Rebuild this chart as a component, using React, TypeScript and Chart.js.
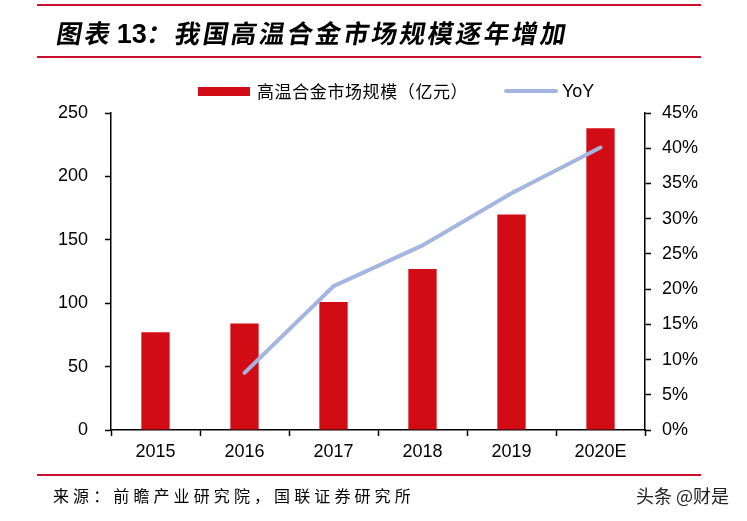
import React, { useEffect, useRef } from "react";
import { Chart, registerables } from "chart.js";

Chart.register(...registerables);

const categories = ["2015", "2016", "2017", "2018", "2019", "2020E"];
const marketSize = [77, 84, 101, 127, 170, 238];
const yoy = [null, 8.1, 20.4, 26.2, 33.6, 40.1];
const leftTicks = [0, 50, 100, 150, 200, 250];
const rightTicks = [0, 5, 10, 15, 20, 25, 30, 35, 40, 45];

const barLabel = "高温合金市场规模（亿元）";
const lineLabel = "YoY";
const titlePrefix = "图表";
const titleNumber = "13";
const titleRest = "：我国高温合金市场规模逐年增加";
const sourceText = "来源：前瞻产业研究院，国联证券研究所";
const watermark = "头条 @财是";

const RED = "#D20C14";
const BLUE = "#A4B5DF";
const RULE = "#C8102E";
const TICK_FONT = { family: "'Liberation Sans', Arial, sans-serif", size: 18 };

export default function App() {
  const ref = useRef<HTMLCanvasElement | null>(null);

  useEffect(() => {
    if (!ref.current) return;
    const chart = new Chart(ref.current, {
      type: "bar",
      data: {
        labels: categories,
        datasets: [
          {
            type: "line",
            label: lineLabel,
            data: yoy,
            yAxisID: "y1",
            borderColor: BLUE,
            backgroundColor: BLUE,
            borderWidth: 4,
            borderCapStyle: "round",
            pointRadius: 0,
            tension: 0,
            spanGaps: false,
            order: 0,
          } as any,
          {
            type: "bar",
            label: barLabel,
            data: marketSize,
            yAxisID: "y",
            backgroundColor: RED,
            categoryPercentage: 1,
            barPercentage: 0.318,
            order: 1,
          },
        ],
      },
      options: {
        responsive: false,
        animation: false,
        devicePixelRatio: 1,
        layout: { padding: { top: 113, bottom: 0, left: 0, right: 0 } },
        plugins: { legend: { display: false }, tooltip: { enabled: false } },
        scales: {
          x: {
            grid: {
              offset: true,
              drawOnChartArea: false,
              drawTicks: true,
              tickLength: 6,
              tickColor: "#000",
              tickWidth: 1.5,
            },
            border: { display: true, color: "#000", width: 1.5 },
            ticks: { color: "#000", font: TICK_FONT, padding: 5, maxRotation: 0 },
            afterFit: (s: any) => {
              s.height = 91;
            },
          },
          y: {
            position: "left",
            min: 0,
            max: 250,
            afterBuildTicks: (s: any) => {
              s.ticks = leftTicks.map((v) => ({ value: v }));
            },
            grid: {
              drawOnChartArea: false,
              drawTicks: true,
              tickLength: 6,
              tickColor: "#000",
              tickWidth: 1.5,
            },
            border: { display: true, color: "#000", width: 1.5 },
            ticks: { color: "#000", font: TICK_FONT, padding: 17 },
            afterFit: (s: any) => {
              s.width = 111;
            },
          },
          y1: {
            position: "right",
            min: 0,
            max: 45,
            afterBuildTicks: (s: any) => {
              s.ticks = rightTicks.map((v) => ({ value: v }));
            },
            grid: {
              drawOnChartArea: false,
              drawTicks: true,
              tickLength: 6,
              tickColor: "#000",
              tickWidth: 1.5,
            },
            border: { display: true, color: "#000", width: 1.5 },
            ticks: {
              color: "#000",
              font: TICK_FONT,
              padding: 11,
              callback: (v: any) => `${v}%`,
            },
            afterFit: (s: any) => {
              s.width = 102;
            },
          },
        },
      },
    });
    return () => chart.destroy();
  }, []);

  const cjk = "'Noto Sans CJK SC', 'Noto Sans', sans-serif";

  return (
    <div
      style={{
        position: "absolute",
        left: 0,
        top: 0,
        width: 747,
        height: 521,
        background: "#fff",
        overflow: "hidden",
      }}
    >
      <canvas
        ref={ref}
        width={747}
        height={521}
        style={{ position: "absolute", left: 0, top: 0, width: 747, height: 521 }}
      />
      {/* title rules */}
      <div style={{ position: "absolute", left: 37, top: 4, width: 664, height: 2, background: RULE }} />
      <div style={{ position: "absolute", left: 37, top: 56, width: 664, height: 2, background: RULE }} />
      <div
        style={{
          position: "absolute",
          left: 57,
          top: 13,
          fontFamily: cjk,
          fontWeight: 700,
          fontSize: 25.5,
          lineHeight: "38px",
          letterSpacing: 2.6,
          color: "#000",
          whiteSpace: "nowrap",
          transform: "skewX(-10deg)",
        }}
      >
        {titlePrefix}
        <span
          style={{
            fontFamily: "'Liberation Sans', Arial, sans-serif",
            fontWeight: 700,
            fontSize: 27,
            letterSpacing: 0,
            marginLeft: 4,
            display: "inline-block",
            transform: "skewX(10deg)",
          }}
        >
          {titleNumber}
        </span>
        {titleRest}
      </div>
      {/* legend */}
      <div style={{ position: "absolute", left: 198, top: 87, width: 52, height: 9, background: RED }} />
      <div
        style={{
          position: "absolute",
          left: 257,
          top: 79,
          fontFamily: cjk,
          fontSize: 17,
          lineHeight: "24px",
          letterSpacing: 0.6,
          color: "#000",
          whiteSpace: "nowrap",
        }}
      >
        {barLabel}
      </div>
      <div
        style={{
          position: "absolute",
          left: 504,
          top: 89,
          width: 54,
          height: 4,
          borderRadius: 2,
          background: BLUE,
        }}
      />
      <div
        style={{
          position: "absolute",
          left: 562,
          top: 79,
          fontFamily: "'Liberation Sans', Arial, sans-serif",
          fontSize: 18,
          lineHeight: "24px",
          color: "#000",
          whiteSpace: "nowrap",
        }}
      >
        {lineLabel}
      </div>
      {/* footer */}
      <div style={{ position: "absolute", left: 37, top: 474, width: 664, height: 2, background: RULE }} />
      <div
        style={{
          position: "absolute",
          left: 53,
          top: 483,
          fontFamily: cjk,
          fontSize: 16,
          lineHeight: "24px",
          letterSpacing: 4.1,
          color: "#000",
          whiteSpace: "nowrap",
        }}
      >
        {sourceText}
      </div>
      <div
        style={{
          position: "absolute",
          left: 636,
          top: 483,
          fontFamily: cjk,
          fontSize: 18,
          lineHeight: "24px",
          color: "#222",
          whiteSpace: "nowrap",
        }}
      >
        {watermark}
      </div>
    </div>
  );
}
